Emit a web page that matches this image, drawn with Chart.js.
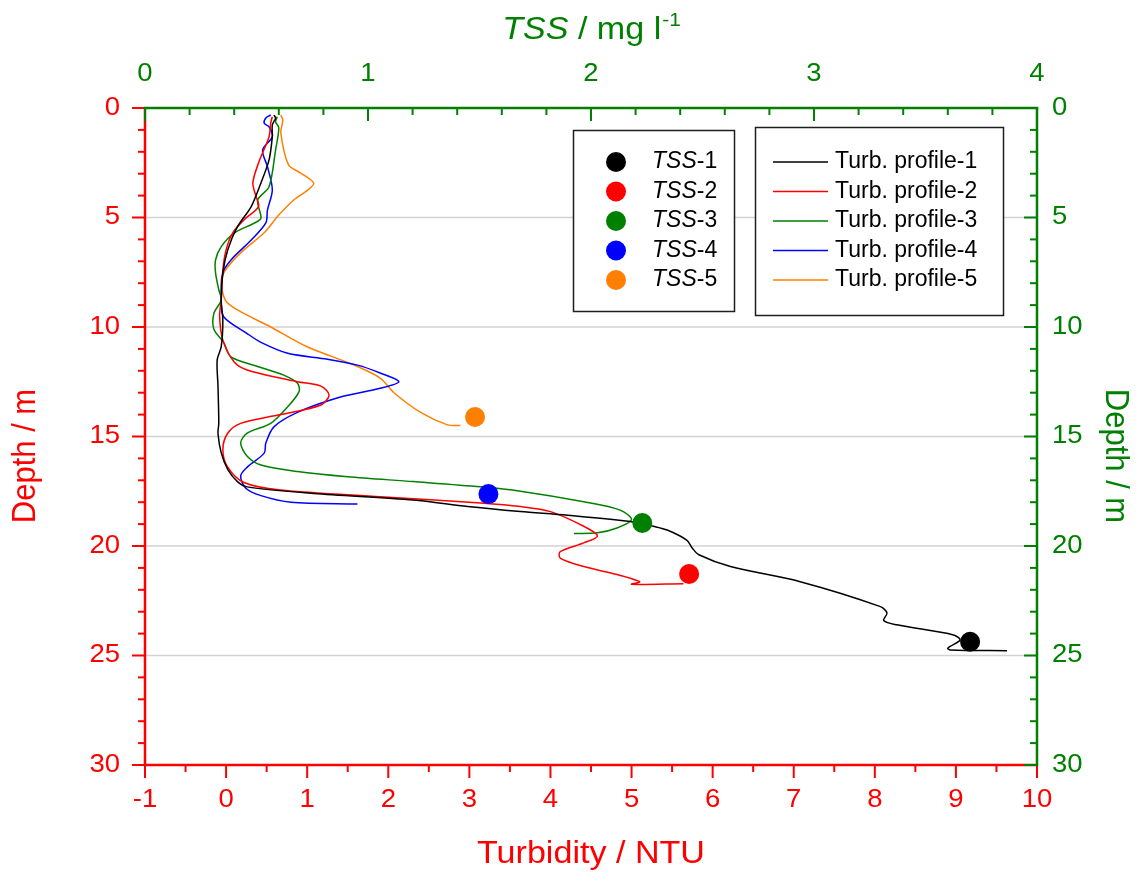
<!DOCTYPE html>
<html>
<head>
<meta charset="utf-8">
<script src="https://cdn.jsdelivr.net/npm/chart.js@4.4.1/dist/chart.umd.min.js"></script>
<style>
html,body{margin:0;padding:0;background:#ffffff;}
canvas{display:block;}
</style>
</head>
<body>
<canvas id="c" width="1138" height="874"></canvas>
<script>
// ---------------- DATA ----------------
const turbTicks  = [-1, 0, 1, 2, 3, 4, 5, 6, 7, 8, 9, 10];
const tssTicks   = [0, 1, 2, 3, 4];
const depthTicks = [0, 5, 10, 15, 20, 25, 30];

// Turbidity profiles (turbidity NTU vs depth m)
const profile1Depth = [0.32,0.46,0.78,1.31,2.37,3.42,4.5,5.42,6.48,7.53,8.77,9.7,10.9,11.5,12.7,14.4,14.85,15.75,16.5,17.06,17.3,17.6,17.9,18.2,18.43,18.6,18.9,19.1,19.27,19.73,20.1,20.4,20.94,21.63,22.77,23.06,23.4,23.6,24.06,24.3,24.66,24.75,24.78];
const profile1Turb  = [0.59,0.61,0.57,0.57,0.53,0.43,0.31,0.14,0.02,-0.04,-0.06,-0.04,-0.06,-0.11,-0.1,-0.09,-0.1,-0.06,0.02,0.14,0.26,1.08,2.31,2.98,3.63,4.21,5.02,5.27,5.44,5.68,5.75,5.83,6.22,7.08,8.07,8.15,8.11,8.27,8.97,9.05,8.9,8.93,9.63];

const profile2Depth = [0.4,0.7,1.31,2.51,3.42,4.05,4.5,5.11,5.71,6.48,7.4,8.77,9.5,10.6,11.6,11.96,12.5,12.7,13.1,13.56,14.0,14.4,14.85,15.6,16.4,17.1,17.44,17.75,18.04,18.2,18.43,19.1,19.54,19.86,20.26,20.55,20.94,21.3,21.63,21.75,21.72];
const profile2Turb  = [0.57,0.55,0.53,0.4,0.33,0.37,0.4,0.22,0.08,0,-0.04,-0.06,-0.08,-0.04,0.1,0.26,0.88,1.17,1.27,1.17,0.67,0.18,0.02,-0.04,0.02,0.22,0.67,1.9,3.14,3.63,4.0,4.41,4.58,4.41,4.12,4.12,4.41,4.82,5.1,5.0,5.64];

const profile3Depth = [0.4,0.63,0.9,1.92,3.6,4.2,5.03,5.25,5.71,6.33,6.94,7.53,8.3,8.77,9.37,10.1,10.7,11.36,11.8,12.2,12.57,12.95,13.64,14.4,14.85,15.3,15.9,16.3,16.6,16.84,17.06,17.3,17.5,17.98,18.36,18.8,19.18,19.4,19.43];
const profile3Turb  = [0.63,0.61,0.65,0.61,0.53,0.39,0.43,0.35,0.1,-0.06,-0.13,-0.13,-0.09,-0.06,-0.15,-0.15,-0.03,0.06,0.39,0.71,0.88,0.9,0.76,0.55,0.26,0.18,0.26,0.43,0.88,1.5,2.31,3.14,3.63,4.41,4.86,5.0,4.82,4.58,4.29];

const profile4Depth = [0.32,0.46,0.7,0.86,1.31,1.92,2.68,3.74,4.66,5.25,6.03,6.94,7.53,8.77,9.53,10.3,10.7,11.2,11.47,11.74,12.1,12.5,12.8,13.2,13.9,14.56,15.3,15.76,16.4,16.8,17.35,17.7,18.0,18.08];
const profile4Turb  = [0.55,0.49,0.47,0.53,0.57,0.45,0.51,0.57,0.51,0.49,0.31,0.06,-0.04,-0.06,-0.03,0.26,0.43,0.76,1.25,1.62,1.9,2.13,1.9,1.41,0.88,0.59,0.49,0.47,0.26,0.18,0.24,0.43,0.8,1.62];

const profile5Depth = [0.32,0.55,1.14,2.6,2.97,3.42,3.74,4.2,4.89,5.7,6.48,7.26,7.85,8.77,9.22,10.0,10.9,11.74,12.33,13.0,13.9,14.47,14.5];
const profile5Turb  = [0.675,0.70,0.675,0.77,0.92,1.08,1.01,0.835,0.65,0.47,0.22,0.02,-0.06,-0.01,0.14,0.55,1.0,1.58,1.9,2.07,2.4,2.73,2.89];

// TSS samples (mg/l vs depth m)
const tssNames  = ['1', '2', '3', '4', '5'];
const tssValues = [3.70, 2.44, 2.23, 1.54, 1.48];
const tssDepths = [24.37, 21.28, 18.95, 17.63, 14.11];

const profileNames = ['Turb. profile-1','Turb. profile-2','Turb. profile-3','Turb. profile-4','Turb. profile-5'];

// ---------------- STYLE ----------------
const seriesColors = ['#000000', '#ff0000', '#008000', '#0000ff', '#ff8000'];
const RED = '#ff0000', GREEN = '#008000';
const FONT = '"Liberation Sans", Arial, Helvetica, sans-serif';

const profileDepths = [profile1Depth, profile2Depth, profile3Depth, profile4Depth, profile5Depth];
const profileTurbs  = [profile1Turb, profile2Turb, profile3Turb, profile4Turb, profile5Turb];

const datasets = [];
tssValues.forEach((v, i) => {
  datasets.push({
    label: 'TSS-' + tssNames[i],
    data: [{x: v, y: tssDepths[i]}],
    xAxisID: 'x2', yAxisID: 'y',
    showLine: false,
    pointRadius: 10, pointHoverRadius: 10,
    pointBackgroundColor: seriesColors[i],
    pointBorderWidth: 0, pointBorderColor: seriesColors[i]
  });
});
profileTurbs.forEach((arr, i) => {
  datasets.push({
    label: profileNames[i],
    data: arr.map((t, k) => ({x: t, y: profileDepths[i][k]})),
    xAxisID: 'x', yAxisID: 'y',
    showLine: true,
    borderColor: seriesColors[i],
    borderWidth: 1.5,
    tension: 0.3,
    pointRadius: 0, pointHoverRadius: 0
  });
});

function stretchText(ctx, text, x, y, sx) {
  ctx.save();
  ctx.translate(x, y);
  ctx.scale(sx, 1);
  ctx.fillText(text, 0, 0);
  ctx.restore();
}
function line(ctx, x1, y1, x2, y2) {
  ctx.beginPath(); ctx.moveTo(x1, y1); ctx.lineTo(x2, y2); ctx.stroke();
}

const MAJ = 13, MIN = 7, SX = 1.1;

const decor = {
  id: 'decor',
  beforeDatasetsDraw(chart) {
    const {ctx, chartArea: a, scales} = chart;
    const y = scales.y;
    ctx.save();
    ctx.strokeStyle = '#d2d2d2';
    ctx.lineWidth = 1.5;
    depthTicks.forEach(v => {
      if (v <= y.min || v >= y.max) return;
      const py = y.getPixelForValue(v);
      line(ctx, a.left, py, a.right, py);
    });
    ctx.restore();
  },
  afterDatasetsDraw(chart) {
    const {ctx, chartArea: a, scales} = chart;
    const sx = scales.x, sx2 = scales.x2, sy = scales.y, sy2 = scales.y2;
    ctx.save();
    ctx.lineCap = 'butt';

    // ---- red axes (bottom, left) ----
    ctx.strokeStyle = RED; ctx.lineWidth = 2.5;
    line(ctx, a.left - 1.25, a.bottom, a.right, a.bottom);
    line(ctx, a.left, a.top, a.left, a.bottom + 1.25);
    ctx.lineWidth = 2;
    for (let k = 0; k <= 22; k++) {
      const v = -1 + k * 0.5;
      const px = sx.getPixelForValue(v);
      line(ctx, px, a.bottom, px, a.bottom + (k % 2 === 0 ? MAJ : MIN));
    }
    for (let v = 0; v <= 30; v++) {
      const py = sy.getPixelForValue(v);
      line(ctx, a.left, py, a.left - (v % 5 === 0 ? MAJ : MIN), py);
    }

    // ---- green axes (top, right) ----
    ctx.strokeStyle = GREEN; ctx.lineWidth = 2.5;
    line(ctx, a.left - 1.25, a.top, a.right + 1.25, a.top);
    line(ctx, a.right, a.top, a.right, a.bottom + 1.25);
    ctx.lineWidth = 2;
    for (let k = 0; k <= 20; k++) {
      const v = k * 0.2;
      const px = sx2.getPixelForValue(v);
      line(ctx, px, a.top, px, a.top + (k % 5 === 0 ? MAJ : MIN));
    }
    for (let v = 0; v <= 30; v++) {
      const py = sy2.getPixelForValue(v);
      line(ctx, a.right, py, a.right - (v % 5 === 0 ? MAJ : MIN), py);
    }

    // ---- tick labels ----
    ctx.font = '25px ' + FONT;
    ctx.textBaseline = 'middle';
    ctx.fillStyle = RED;
    ctx.textAlign = 'center';
    turbTicks.forEach(v => stretchText(ctx, String(v), sx.getPixelForValue(v), 800, SX));
    ctx.textAlign = 'right';
    depthTicks.forEach(v => stretchText(ctx, String(v), 120, sy.getPixelForValue(v), SX));
    ctx.fillStyle = GREEN;
    ctx.textAlign = 'center';
    tssTicks.forEach(v => stretchText(ctx, String(v), sx2.getPixelForValue(v), 74, SX));
    ctx.textAlign = 'left';
    depthTicks.forEach(v => stretchText(ctx, String(v), 1052, sy2.getPixelForValue(v), SX));

    // ---- axis titles ----
    const cx = (a.left + a.right) / 2;
    ctx.textBaseline = 'alphabetic';
    ctx.textAlign = 'left';
    ctx.fillStyle = GREEN;
    const fItal = 'italic 31px ' + FONT, fNorm = '31px ' + FONT, fSup = '19px ' + FONT;
    ctx.font = fItal; const w1 = ctx.measureText('TSS').width;
    ctx.font = fNorm; const w2 = ctx.measureText(' / mg l').width;
    ctx.font = fSup; const w3 = ctx.measureText('-1').width;
    const TS = 1.1;
    let x0 = cx - (w1 + w2 + w3) * TS / 2;
    ctx.font = fItal; stretchText(ctx, 'TSS', x0, 39, TS); x0 += w1 * TS;
    ctx.font = fNorm; stretchText(ctx, ' / mg l', x0, 39, TS); x0 += w2 * TS;
    ctx.font = fSup; stretchText(ctx, '-1', x0 + 1, 26, TS);
    ctx.fillStyle = RED;
    ctx.font = fNorm; ctx.textAlign = 'center';
    stretchText(ctx, 'Turbidity / NTU', cx, 863, TS);
    ctx.textBaseline = 'middle';
    ctx.save(); ctx.translate(26, 456); ctx.rotate(-Math.PI / 2); ctx.scale(1, 1.1);
    ctx.fillText('Depth / m', 0, 0); ctx.restore();
    ctx.fillStyle = GREEN;
    ctx.save(); ctx.translate(1115, 456); ctx.rotate(Math.PI / 2); ctx.scale(1, 1.1);
    ctx.fillText('Depth / m', 0, 0); ctx.restore();

    // ---- legends ----
    ctx.fillStyle = '#ffffff';
    ctx.strokeStyle = '#1e1e1e';
    ctx.lineWidth = 1.5;
    ctx.fillRect(573.5, 130.5, 161, 181);
    ctx.strokeRect(573.5, 130.5, 161, 181);
    ctx.fillRect(755.5, 127.5, 248, 188);
    ctx.strokeRect(755.5, 127.5, 248, 188);
    ctx.textAlign = 'left';
    ctx.textBaseline = 'middle';
    for (let i = 0; i < 5; i++) {
      const ry = 162 + i * 29.5;
      ctx.fillStyle = seriesColors[i];
      ctx.beginPath(); ctx.arc(616, ry, 10, 0, Math.PI * 2); ctx.fill();
      ctx.fillStyle = '#000000';
      ctx.font = 'italic 23px ' + FONT;
      const wt = ctx.measureText('TSS').width;
      ctx.fillText('TSS', 652, ry);
      ctx.font = '23px ' + FONT;
      ctx.fillText('-' + tssNames[i], 652 + wt, ry);

      ctx.strokeStyle = seriesColors[i];
      ctx.lineWidth = 1.5;
      line(ctx, 773, ry, 828, ry);
      ctx.fillStyle = '#000000';
      ctx.fillText(profileNames[i], 835, ry);
    }
    ctx.restore();
  }
};

new Chart(document.getElementById('c'), {
  type: 'scatter',
  data: { datasets },
  options: {
    responsive: false,
    animation: false,
    devicePixelRatio: 1,
    layout: { padding: 0 },
    plugins: { legend: { display: false }, tooltip: { enabled: false } },
    events: [],
    scales: {
      x: {
        type: 'linear', position: 'bottom', min: -1, max: 10,
        ticks: { display: false, stepSize: 1 },
        grid: { display: false }, border: { display: false },
        afterFit(s) { s.height = 109; }
      },
      x2: {
        type: 'linear', position: 'top', min: 0, max: 4,
        ticks: { display: false, stepSize: 1 },
        grid: { display: false }, border: { display: false },
        afterFit(s) { s.height = 108; }
      },
      y: {
        type: 'linear', position: 'left', min: 0, max: 30, reverse: true,
        ticks: { display: false, stepSize: 5 },
        grid: { display: false }, border: { display: false },
        afterFit(s) { s.width = 145; }
      },
      y2: {
        type: 'linear', position: 'right', min: 0, max: 30, reverse: true,
        ticks: { display: false, stepSize: 5 },
        grid: { display: false }, border: { display: false },
        afterFit(s) { s.width = 101; }
      }
    }
  },
  plugins: [decor]
});
</script>
</body>
</html>
